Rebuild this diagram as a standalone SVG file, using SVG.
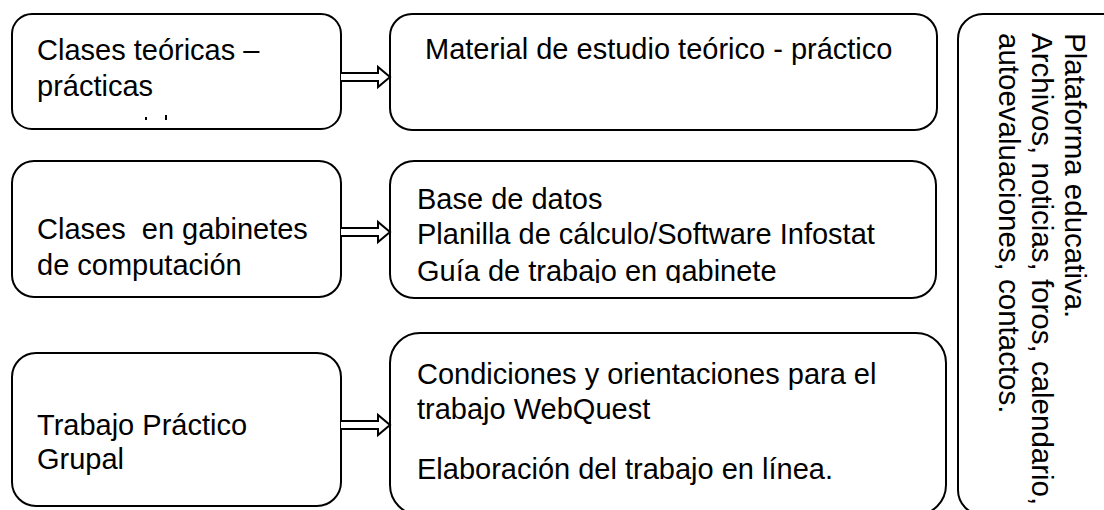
<svg xmlns="http://www.w3.org/2000/svg" width="1104" height="510" viewBox="0 0 1104 510">
<style>
.box{fill:#fff;stroke:#000;stroke-width:2}
.t{font-family:"Liberation Sans",Arial,sans-serif;font-size:29px;fill:#000}
.v{font-size:29.5px}
.arr{fill:#fff;stroke:#000;stroke-width:2;stroke-linejoin:miter}
</style>
<defs>
<clipPath id="clip4"><rect x="390" y="161" width="546" height="122"/></clipPath>
</defs>
<rect width="1104" height="510" fill="#fff"/>
<g id="n1">
<rect class="box" x="12" y="14" width="329" height="115" rx="20"/>
<text class="t" x="37" y="60">Clases teóricas –</text>
<text class="t" x="37" y="96">prácticas</text>
<rect x="145" y="117" width="2" height="3" fill="#000"/>
<rect x="165" y="115" width="2" height="5" fill="#000"/>
</g>
<g id="n2">
<rect class="box" x="390" y="14" width="547" height="116" rx="22"/>
<text class="t" x="425" y="59">Material de estudio teórico - práctico</text>
</g>
<g id="n3">
<rect class="box" x="12" y="161" width="329" height="136" rx="22"/>
<text class="t" x="37" y="239" xml:space="preserve">Clases  en gabinetes</text>
<text class="t" x="37" y="275">de computación</text>
</g>
<g id="n4">
<rect class="box" x="390" y="161" width="546" height="137" rx="24"/>
<g clip-path="url(#clip4)">
<text class="t" x="417" y="209">Base de datos</text>
<text class="t" x="417" y="244">Planilla de cálculo/Software Infostat</text>
<text class="t" x="417" y="281">Guía de trabajo en gabinete</text>
</g>
</g>
<g id="n5">
<rect class="box" x="12" y="353" width="329" height="153" rx="24"/>
<text class="t" x="37" y="435">Trabajo Práctico</text>
<text class="t" x="37" y="469">Grupal</text>
</g>
<g id="n6">
<rect class="box" x="390" y="333" width="556" height="182" rx="30"/>
<text class="t" x="417" y="384">Condiciones y orientaciones para el</text>
<text class="t" x="417" y="419">trabajo WebQuest</text>
<text class="t" x="417" y="479">Elaboración del trabajo en línea.</text>
</g>
<g id="n7">
<rect class="box" x="958" y="14" width="200" height="501" rx="25"/>
<text class="t v" transform="translate(1065 33) rotate(90)">Plataforma educativa.</text>
<text class="t v" transform="translate(1032 33) rotate(90)">Archivos, noticias, foros, calendario,</text>
<text class="t v" transform="translate(999 33) rotate(90)">autoevaluaciones, contactos.</text>
</g>
<g id="connectors">
<path class="arr" d="M341,73 L378,73 L378,67 L390,77 L378,87 L378,81 L341,81"/>
<path class="arr" d="M341,228 L378,228 L378,222 L390,232 L378,242 L378,236 L341,236"/>
<path class="arr" d="M341,421 L378,421 L378,415 L390,425 L378,435 L378,429 L341,429"/>
</g>
</svg>
